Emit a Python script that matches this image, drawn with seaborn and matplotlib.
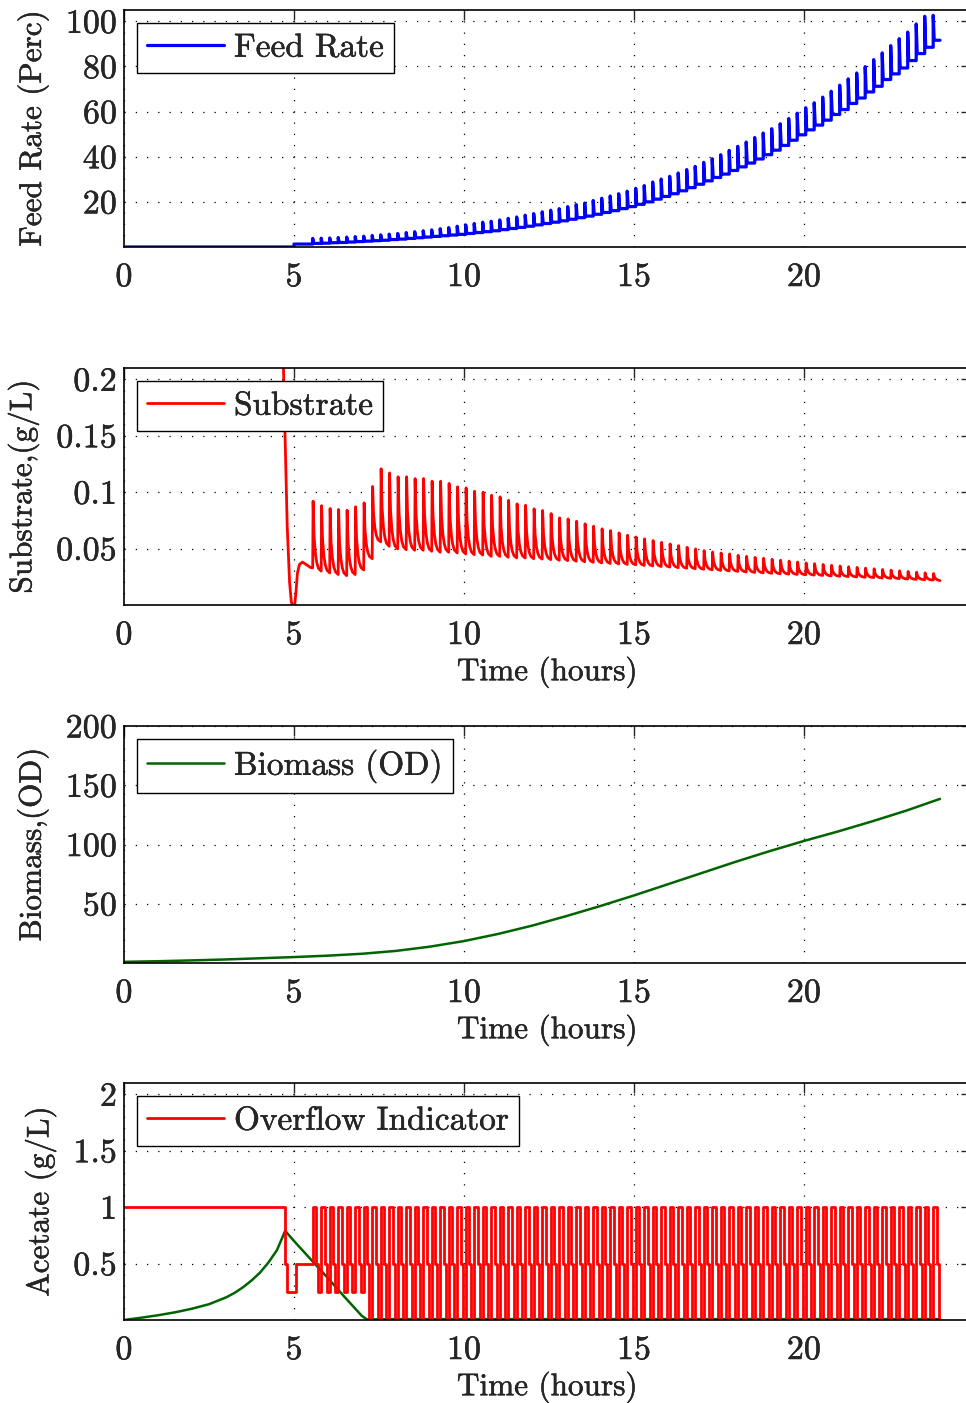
import numpy as np
import matplotlib
matplotlib.use("Agg")
import matplotlib.pyplot as plt
import matplotlib.patheffects as pe
import seaborn as sns

# ---------------- data ----------------
pulse_t = [5.55, 5.80, 6.05, 6.30, 6.55, 6.80, 7.05, 7.30, 7.55, 7.80,
           8.05, 8.30, 8.55, 8.80, 9.05, 9.30, 9.55, 9.80, 10.05, 10.30,
           10.55, 10.80, 11.05, 11.30, 11.55, 11.80, 12.05, 12.30, 12.55, 12.80,
           13.05, 13.30, 13.55, 13.80, 14.05, 14.30, 14.55, 14.80, 15.05, 15.30,
           15.55, 15.80, 16.05, 16.30, 16.55, 16.80, 17.05, 17.30, 17.55, 17.80,
           18.05, 18.30, 18.55, 18.80, 19.05, 19.30, 19.55, 19.80, 20.05, 20.30,
           20.55, 20.80, 21.05, 21.30, 21.55, 21.80, 22.05, 22.30, 22.55, 22.80,
           23.05, 23.30, 23.55, 23.80]
end_t = 24.0

# Feed rate: value at the top of each pulse and level held after it
feed_peak = [3.8, 3.9, 4.0, 4.2, 4.4, 4.6, 4.8, 5.1, 5.4, 5.7,
             6.0, 6.4, 6.8, 7.2, 7.6, 8.1, 8.6, 9.2, 9.8, 10.4,
             11.0, 11.4, 12.0, 12.7, 13.3, 14.1, 14.8, 15.6, 16.3, 17.0,
             17.9, 18.8, 19.5, 20.6, 21.6, 22.6, 23.6, 24.7, 26.0, 27.2,
             28.8, 30.1, 31.3, 32.8, 34.3, 35.7, 37.5, 39.1, 40.9, 42.8,
             44.6, 46.5, 48.5, 50.5, 52.4, 54.6, 56.9, 59.3, 61.7, 63.9,
             66.4, 69.0, 71.7, 74.5, 77.1, 79.9, 83.0, 86.0, 89.2, 92.3,
             95.2, 98.8, 102.2, 102.6]
feed_base = [1.6, 1.7, 1.9, 2.0, 2.2, 2.4, 2.6, 2.8, 3.0, 3.3,
             3.5, 3.8, 4.1, 4.4, 4.7, 5.0, 5.3, 5.6, 6.0, 6.4,
             6.8, 7.2, 7.7, 8.2, 8.7, 9.2, 9.8, 10.4, 11.0, 11.6,
             12.3, 13.0, 13.7, 14.5, 15.3, 16.1, 17.0, 17.9, 18.9, 20.0,
             21.2, 22.4, 23.6, 24.9, 26.3, 27.8, 29.3, 30.8, 32.3, 33.9,
             35.5, 37.2, 39.0, 40.9, 42.9, 45.0, 47.3, 49.7, 51.9, 54.0,
             56.2, 58.7, 60.9, 63.6, 66.0, 68.7, 71.2, 74.2, 76.7, 79.3,
             82.6, 85.7, 88.5, 91.6]
feed_pre_t = [0.0, 5.0, 5.0]
feed_pre_v = [0.0, 0.0, 1.3]

# Substrate: spike tops and the trough reached before the next spike
sub_peak = [0.092, 0.088, 0.0855, 0.0846, 0.084, 0.087, 0.0905, 0.105, 0.1207, 0.117,
            0.1136, 0.1136, 0.112, 0.112, 0.1097, 0.1097, 0.1077, 0.1047, 0.1038, 0.1008,
            0.100, 0.0973, 0.0958, 0.0928, 0.0896, 0.0884, 0.0852, 0.0837, 0.081, 0.0772,
            0.0763, 0.0742, 0.0719, 0.0698, 0.0675, 0.0659, 0.0639, 0.0618, 0.0603, 0.0586,
            0.0571, 0.0556, 0.0541, 0.0526, 0.0511, 0.0497, 0.0482, 0.047, 0.0461, 0.0453,
            0.044, 0.0431, 0.0422, 0.0414, 0.0405, 0.0397, 0.0389, 0.0381, 0.0373, 0.0366,
            0.0359, 0.0352, 0.0345, 0.0339, 0.0333, 0.0327, 0.0321, 0.0315, 0.0309, 0.0303,
            0.0297, 0.0291, 0.0285, 0.0279]
sub_trough = [0.030, 0.0284, 0.027, 0.026, 0.027, 0.031, 0.041, 0.056, 0.052, 0.0497,
              0.049, 0.0485, 0.0485, 0.0476, 0.0467, 0.0467, 0.0461, 0.0452, 0.0446, 0.0443,
              0.0431, 0.0431, 0.0423, 0.0417, 0.0417, 0.041, 0.0407, 0.0402, 0.0396, 0.0393,
              0.0388, 0.0383, 0.0378, 0.0373, 0.0368, 0.0364, 0.0360, 0.0356, 0.0351, 0.0346,
              0.0341, 0.0336, 0.0331, 0.0326, 0.0322, 0.0317, 0.0312, 0.0307, 0.0302, 0.0298,
              0.0293, 0.0289, 0.0285, 0.0281, 0.0277, 0.0274, 0.0271, 0.0268, 0.0265, 0.0262,
              0.0258, 0.0255, 0.0252, 0.0249, 0.0246, 0.0243, 0.0240, 0.0237, 0.0234, 0.0230,
              0.0227, 0.0224, 0.0221, 0.0216]
sub_pre_t = [0.0, 4.5, 4.69, 4.8, 4.87, 4.92, 4.95, 5.02, 5.06, 5.1, 5.16, 5.25, 5.4, 5.5]
sub_pre_v = [1.5, 0.5, 0.21, 0.07, 0.02, 0.003, 0.0, 0.0, 0.012, 0.028, 0.036, 0.038, 0.035, 0.033]
# decay profile after each spike (hours after pulse, fraction of spike height)
decay_dt = [0.012, 0.04, 0.08, 0.12, 0.17]
decay_frac = [1.0, 0.5, 0.25, 0.12, 0.04]

# Biomass
bio_t = [0, 1, 2, 3, 4, 5, 6, 7, 8, 9, 10, 11, 12, 13, 14, 15, 16, 17, 18, 19,
         20, 21, 22, 23, 24]
bio_v = [1.0, 1.5, 2.2, 3.0, 4.0, 5.0, 6.2, 7.8, 10.2, 13.8, 18.5, 24.5, 31.5, 39.5,
         48.0, 57.0, 66.5, 76.0, 85.5, 94.5, 103.0, 111.0, 119.5, 128.5, 138.5]

# Acetate
ace_t = [0, 0.5, 1, 1.5, 2, 2.5, 3, 3.25, 3.5, 3.75, 4, 4.25, 4.5, 4.74, 5.0, 5.5,
         6.0, 6.5, 7.0, 7.15, 8, 24]
ace_v = [0, 0.02, 0.042, 0.068, 0.10, 0.14, 0.20, 0.24, 0.29, 0.35, 0.42, 0.51,
         0.62, 0.79, 0.70, 0.535, 0.37, 0.20, 0.035, 0.005, 0.008, 0.008]

# Overflow indicator: levels after each feed pulse
ind_pre_t = [0.0, 4.74, 4.74, 4.78, 4.78, 5.05, 5.05]
ind_pre_v = [1.0, 1.0, 0.5, 0.5, 0.25, 0.25, 0.5]
ind_low = [0.25, 0.25, 0.25, 0.25, 0.25, 0.25] + [0.0] * 68
ind_hi_dt = 0.10
ind_mid_dt = 0.06

# ---------------- build line vertices from the data ----------------
fx, fy = list(feed_pre_t), list(feed_pre_v)
prev = feed_pre_v[-1]
for t, p, b in zip(pulse_t, feed_peak, feed_base):
    fx += [t, t, t + 0.03]
    fy += [prev, p, b]
    prev = b
fx.append(end_t); fy.append(prev)

sx, sy = list(sub_pre_t), list(sub_pre_v)
prev = sub_pre_v[-1]
for t, p, tr in zip(pulse_t, sub_peak, sub_trough):
    sx.append(t); sy.append(prev)
    for dt, fr in zip(decay_dt, decay_frac):
        sx.append(t + dt); sy.append(tr + (p - tr) * fr)
    prev = tr
sx.append(end_t); sy.append(prev)

ix, iy = list(ind_pre_t), list(ind_pre_v)
prev = ind_pre_v[-1]
for t, low in zip(pulse_t, ind_low):
    ix += [t, t, t + ind_hi_dt, t + ind_hi_dt, t + ind_hi_dt + ind_mid_dt, t + ind_hi_dt + ind_mid_dt]
    iy += [prev, 1.0, 1.0, 0.5, 0.5, low]
    prev = low
ix.append(end_t); iy.append(prev)

# ---------------- style ----------------
sns.set_style("white")
FS_TICK = 24.5
FS_LEG = 24
FS_LAB = 22.5
plt.rcParams.update({
    "font.family": ["cmr10", "DejaVu Serif"],
    "mathtext.fontset": "cm",
    "axes.formatter.use_mathtext": True,
    "font.size": FS_LEG,
    "axes.unicode_minus": False,
})
THICK = [pe.withStroke(linewidth=0.3, foreground="black")]

BLUE = "#0000ff"
RED = "#ff0000"
GREEN = "#006400"

W, H = 966, 1403
fig = plt.figure(figsize=(W / 100, H / 100), dpi=100)
left = 124 / W
xmax = 24.9
width = 34 * xmax / W
tops = [10, 368, 726, 1083]
hpx = 237


def make_ax(top):
    return fig.add_axes([left, 1 - (top + hpx) / H, width, hpx / H])


def style(ax, yticks, ylabels, ylim, ylabel, xlabel=True):
    ax.set_xlim(0, xmax)
    ax.set_ylim(*ylim)
    ax.set_xticks([0, 5, 10, 15, 20])
    ax.set_xticklabels(["0", "5", "10", "15", "20"])
    ax.set_yticks(yticks)
    ax.set_yticklabels(ylabels)
    ax.tick_params(direction="in", length=7, width=1, top=True, right=True,
                   labelsize=FS_TICK)
    ax.tick_params(axis="x", pad=11.5)
    ax.tick_params(axis="y", pad=5)
    ax.grid(True, linestyle=(0, (1, 8)), color="black", linewidth=0.9)
    ax.set_axisbelow(True)
    for s in ax.spines.values():
        s.set_linewidth(1.2)
        s.set_color("black")
    ax.set_ylabel(ylabel, fontsize=FS_LAB, labelpad=12)
    if xlabel:
        ax.set_xlabel("Time (hours)", fontsize=FS_LAB, labelpad=5)
    for lab in ax.get_xticklabels() + ax.get_yticklabels():
        lab.set_path_effects(THICK)
    ax.xaxis.label.set_path_effects(THICK)
    ax.yaxis.label.set_path_effects(THICK)


def legend(ax, line, text):
    leg = ax.legend(handles=[line], labels=[text], loc="upper left",
                    fancybox=False, edgecolor="black", framealpha=1,
                    borderaxespad=0.4, handlelength=2.3, handletextpad=0.3,
                    borderpad=0.3, fontsize=FS_LEG)
    leg.get_frame().set_linewidth(1.0)
    for t in leg.get_texts():
        t.set_path_effects(THICK)


# Panel 1: feed rate
ax1 = make_ax(tops[0])
sns.lineplot(x=fx, y=fy, ax=ax1, color=BLUE, lw=2.3, sort=False, estimator=None)
style(ax1, [20, 40, 60, 80, 100], ["20", "40", "60", "80", "100"], (0, 105),
      "Feed Rate (Perc)", xlabel=False)
legend(ax1, ax1.lines[0], "Feed Rate")

# Panel 2: substrate
ax2 = make_ax(tops[1])
sns.lineplot(x=sx, y=sy, ax=ax2, color=RED, lw=2.0, sort=False, estimator=None)
style(ax2, [0.05, 0.1, 0.15, 0.2], ["0.05", "0.1", "0.15", "0.2"], (0, 0.21),
      "Substrate,(g/L)")
legend(ax2, ax2.lines[0], "Substrate")

# Panel 3: biomass
ax3 = make_ax(tops[2])
sns.lineplot(x=bio_t, y=bio_v, ax=ax3, color=GREEN, lw=1.8, sort=False, estimator=None)
style(ax3, [50, 100, 150, 200], ["50", "100", "150", "200"], (0, 200),
      "Biomass,(OD)")
legend(ax3, ax3.lines[0], "Biomass (OD)")

# Panel 4: acetate + overflow indicator
ax4 = make_ax(tops[3])
sns.lineplot(x=ace_t, y=ace_v, ax=ax4, color=GREEN, lw=1.8, sort=False, estimator=None)
sns.lineplot(x=ix, y=iy, ax=ax4, color=RED, lw=2.0, sort=False, estimator=None)
style(ax4, [0.5, 1, 1.5, 2], ["0.5", "1", "1.5", "2"], (0, 2.1), "Acetate (g/L)")
legend(ax4, ax4.lines[1], "Overflow Indicator")

fig.savefig("out.png", dpi=100)
